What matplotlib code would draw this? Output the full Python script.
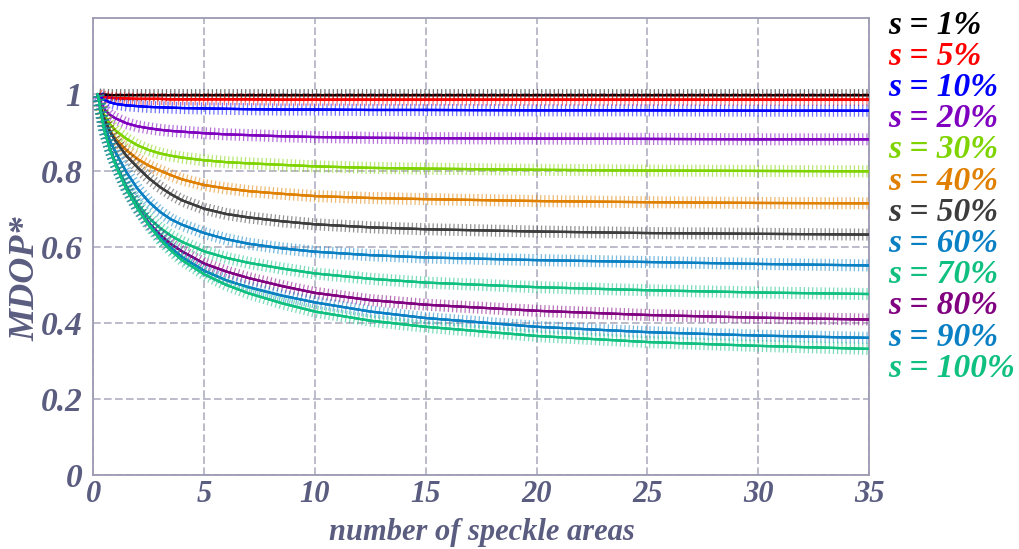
import matplotlib
matplotlib.use("Agg")
import matplotlib.pyplot as plt
import matplotlib.patheffects as pe

# number of speckle areas where the curves were read
n_areas = [0.2, 0.35, 0.5, 0.75, 1, 1.5, 2, 2.5, 3, 3.5, 4, 5, 6, 7, 8.5, 10, 12.5, 15, 20, 25, 30, 35]

# MDOP*, one list per s
s1 = [1.0, 0.999, 0.999, 0.998, 0.998, 0.998, 0.998, 0.998, 0.998, 0.998, 0.998,
      0.998, 0.998, 0.998, 0.998, 0.998, 0.998, 0.998, 0.998, 0.998, 0.998, 0.998]
s5 = [1.0, 0.996, 0.993, 0.991, 0.99, 0.989, 0.988, 0.988, 0.988, 0.987, 0.987,
      0.987, 0.987, 0.987, 0.986, 0.986, 0.986, 0.986, 0.986, 0.986, 0.986, 0.986]
s10 = [1.0, 0.99, 0.985, 0.979, 0.975, 0.971, 0.969, 0.967, 0.966, 0.965, 0.964,
       0.963, 0.962, 0.961, 0.96, 0.96, 0.959, 0.959, 0.958, 0.958, 0.957, 0.957]
s20 = [1.0, 0.977, 0.96, 0.946, 0.937, 0.924, 0.916, 0.911, 0.907, 0.904, 0.902,
       0.898, 0.895, 0.893, 0.89, 0.888, 0.886, 0.885, 0.884, 0.883, 0.882, 0.882]
s30 = [1.0, 0.968, 0.945, 0.922, 0.905, 0.883, 0.866, 0.854, 0.845, 0.839, 0.834,
       0.827, 0.822, 0.819, 0.815, 0.811, 0.807, 0.805, 0.802, 0.8, 0.799, 0.798]
s40 = [1.0, 0.963, 0.935, 0.905, 0.883, 0.853, 0.83, 0.813, 0.8, 0.788, 0.777,
       0.762, 0.753, 0.746, 0.739, 0.733, 0.728, 0.725, 0.72, 0.717, 0.715, 0.714]
s50 = [1.0, 0.962, 0.935, 0.902, 0.878, 0.838, 0.808, 0.78, 0.757, 0.738, 0.722,
       0.7, 0.686, 0.677, 0.667, 0.659, 0.651, 0.646, 0.64, 0.636, 0.634, 0.632]
s60 = [1.0, 0.955, 0.918, 0.878, 0.848, 0.795, 0.752, 0.718, 0.692, 0.672, 0.658,
       0.636, 0.62, 0.608, 0.596, 0.587, 0.578, 0.572, 0.565, 0.56, 0.555, 0.551]
s70 = [1.0, 0.95, 0.908, 0.859, 0.82, 0.758, 0.712, 0.676, 0.65, 0.629, 0.613,
       0.588, 0.571, 0.558, 0.543, 0.53, 0.516, 0.506, 0.494, 0.486, 0.48, 0.476]
s80 = [1.0, 0.95, 0.907, 0.858, 0.818, 0.753, 0.702, 0.663, 0.632, 0.607, 0.588,
       0.556, 0.535, 0.518, 0.497, 0.479, 0.46, 0.448, 0.432, 0.421, 0.414, 0.409]
s90 = [1.0, 0.95, 0.906, 0.857, 0.817, 0.752, 0.7, 0.66, 0.625, 0.597, 0.573,
       0.537, 0.512, 0.494, 0.472, 0.454, 0.43, 0.413, 0.39, 0.376, 0.367, 0.361]
s100 = [1.0, 0.95, 0.905, 0.855, 0.815, 0.75, 0.7, 0.657, 0.62, 0.59, 0.565,
        0.528, 0.5, 0.478, 0.452, 0.43, 0.406, 0.39, 0.366, 0.35, 0.34, 0.332]

series = [s1, s5, s10, s20, s30, s40, s50, s60, s70, s80, s90, s100]
labels = ['s = 1%', 's = 5%', 's = 10%', 's = 20%', 's = 30%', 's = 40%',
          's = 50%', 's = 60%', 's = 70%', 's = 80%', 's = 90%', 's = 100%']
colors = ['#000000', '#ff0000', '#0000ff', '#7f00bf', '#7fd400', '#e08000',
          '#3c3c3c', '#0a80c4', '#10c080', '#800080', '#0a80c4', '#10c080']

xticks = [0, 5, 10, 15, 20, 25, 30, 35]
yticks = [0, 0.2, 0.4, 0.6, 0.8, 1.0]
ytick_labels = ['0', '0.2', '0.4', '0.6', '0.8', '1']

txt = '#5b5d80'
font = dict(family=['Liberation Serif', 'DejaVu Serif'], weight='bold', style='italic')

fig = plt.figure(figsize=(10.2, 5.49), dpi=100)
ax = fig.add_axes([0.0915, 0.134, 0.7605, 0.833])

# thin line with light "+" ticks across it
ticks = dict(spacing=3.0, length=1.3, alpha=0.55, linewidth=0.9)
for vals, c in zip(series, colors):
    ax.plot(n_areas, vals, color=c, lw=1.6, zorder=3,
            path_effects=[pe.withTickedStroke(angle=90, **ticks),
                          pe.withTickedStroke(angle=-90, **ticks),
                          pe.Normal()])

ax.set_xlim(0, 35)
ax.set_ylim(0, 1.2)
ax.set_xticks(xticks)
ax.set_yticks(yticks)
ax.set_yticklabels(ytick_labels)
ax.tick_params(length=0, labelcolor=txt)
ax.tick_params(axis='y', pad=8, labelsize=24)
ax.tick_params(axis='x', pad=3, labelsize=22)
for lab in ax.get_xticklabels() + ax.get_yticklabels():
    lab.set(**font)
ax.grid(True, color='#a9a8bc', lw=1.1, dashes=(5, 2.2))
for sp in ax.spines.values():
    sp.set_color('#9c9ab2')
    sp.set_linewidth(1.3)

fig.text(0.472, 0.004, 'number of speckle areas', fontsize=22, color=txt,
         ha='center', va='bottom', **font)
ax.set_ylabel('MDOP*', fontsize=26, color=txt, **font)
ax.yaxis.set_label_coords(-0.066, 0.43)

for i, (lab, c) in enumerate(zip(labels, colors)):
    fig.text(0.871, 0.954 - i * 0.0568, lab, color=c, fontsize=24, va='center', ha='left', **font)

fig.savefig('out.png', dpi=100)
